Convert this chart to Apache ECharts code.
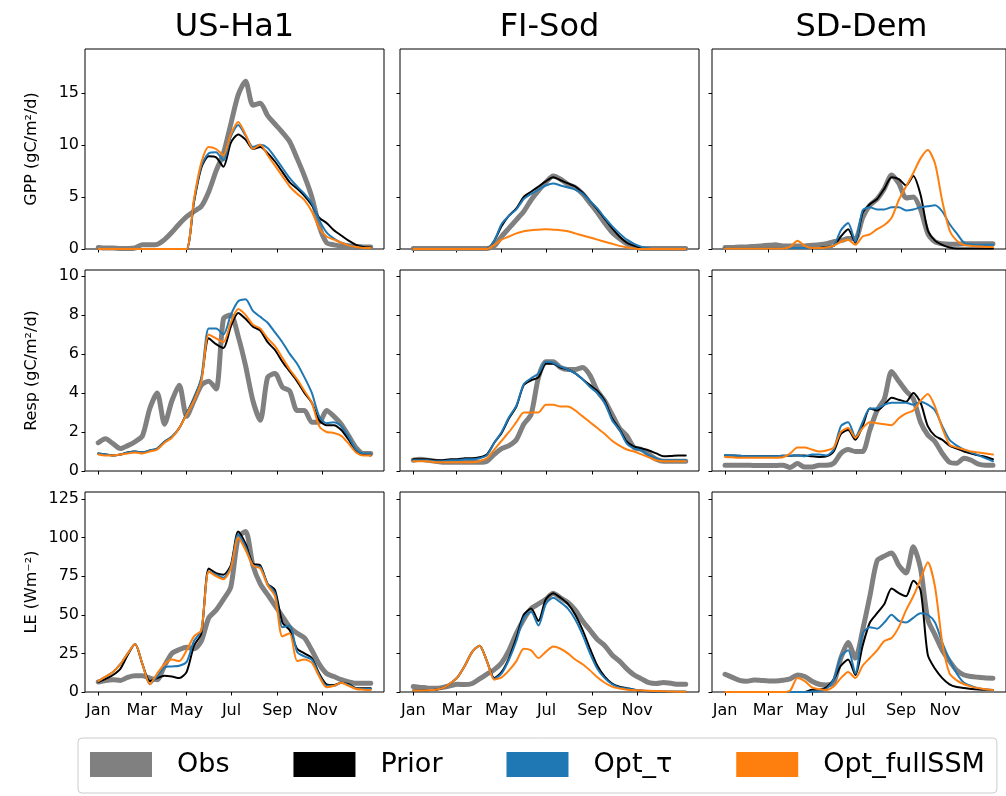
<!DOCTYPE html>
<html>
<head>
<meta charset="utf-8">
<title>GPP, Resp and LE at three sites</title>
<script src="https://cdn.jsdelivr.net/npm/echarts@6/dist/echarts.min.js"></script>
<style>
html, body { margin: 0; padding: 0; background: #fff; }
#chart { width: 1006px; height: 796px; }
</style>
</head>
<body>
<div id="chart"></div>
<script>
// day of year (0 = 1 Jan), one value every 10 days
const days = [0, 10, 20, 30, 40, 50, 60, 70, 80, 90, 100, 110, 120, 130, 140, 150, 160, 170, 180,
  190, 200, 210, 220, 230, 240, 250, 260, 270, 280, 290, 300, 310, 320, 330, 340, 350, 360, 370];
const monthTicks = [0, 59, 120, 181, 243, 304];
const monthLabels = ['Jan', 'Mar', 'May', 'Jul', 'Sep', 'Nov'];
const sites = ['US-Ha1', 'FI-Sod', 'SD-Dem'];
const rowNames = ['GPP (gC/m²/d)', 'Resp (gC/m²/d)', 'LE (Wm⁻²)'];
const yTicks = [[0, 5, 10, 15], [0, 2, 4, 6, 8, 10], [0, 25, 50, 75, 100, 125]];
const yMax = [19.2, 10.3, 129.5];
const seriesNames = ['Obs', 'Prior', 'Opt_τ', 'Opt_fullSSM'];

// GPP
const ha1GppObs = [0.15, 0.1, 0.1, 0.05, 0.05, 0.1, 0.4, 0.4, 0.45, 0.9, 1.6, 2.4, 3.1, 3.6, 4.1, 5.5, 7.5, 9.2, 12.0, 14.8, 16.1, 13.8, 14.0, 12.8, 12.0, 11.2, 10.3, 8.7, 7.0, 5.0, 2.2, 0.6, 0.4, 0.3, 0.3, 0.25, 0.2, 0.2];
const ha1GppPrior = [0, 0, 0, 0, 0, 0, 0, 0, 0, 0, 0, 0, 0, 4.5, 7.8, 8.9, 8.8, 7.9, 10.2, 11.0, 10.5, 9.6, 9.8, 9.2, 8.4, 7.4, 6.4, 5.8, 5.1, 4.2, 3.0, 2.5, 1.8, 1.3, 0.8, 0.4, 0.2, 0.15];
const ha1GppTau = [0, 0, 0, 0, 0, 0, 0, 0, 0, 0, 0, 0, 0, 4.6, 8.0, 9.2, 9.3, 8.5, 10.8, 11.9, 10.9, 9.8, 10.0, 9.7, 8.8, 7.8, 6.8, 6.0, 5.3, 4.4, 2.8, 1.6, 1.0, 0.6, 0.4, 0.2, 0.1, 0.1];
const ha1GppFull = [0, 0, 0, 0, 0, 0, 0, 0, 0, 0, 0, 0, 0, 4.8, 8.3, 9.8, 9.6, 9.0, 11.0, 12.2, 11.0, 9.6, 10.0, 9.0, 8.0, 7.0, 6.0, 5.3, 4.7, 3.6, 2.0, 1.2, 0.9, 0.6, 0.35, 0.2, 0.1, 0.1];

const sodGppObs = [0.05, 0.05, 0.05, 0.05, 0.05, 0.05, 0.05, 0.05, 0.05, 0.05, 0.05, 0.3, 1.2, 2.0, 2.8, 3.6, 4.7, 5.6, 6.4, 7.0, 6.7, 6.2, 5.9, 5.3, 4.4, 3.5, 2.5, 1.6, 1.0, 0.5, 0.2, 0.05, 0.05, 0.05, 0.05, 0.05, 0.05, 0.05];
const sodGppPrior = [0, 0, 0, 0, 0, 0, 0, 0, 0, 0, 0, 0.8, 2.2, 3.2, 3.9, 5.0, 5.5, 6.0, 6.5, 6.9, 6.6, 6.3, 6.0, 5.4, 4.6, 3.8, 2.9, 2.0, 1.2, 0.6, 0.3, 0.1, 0, 0, 0, 0, 0, 0];
const sodGppTau = [0, 0, 0, 0, 0, 0, 0, 0, 0, 0, 0, 0.8, 2.4, 3.2, 3.8, 4.8, 5.3, 5.7, 6.1, 6.3, 6.1, 5.9, 5.7, 5.3, 4.6, 3.9, 3.0, 2.2, 1.5, 0.9, 0.5, 0.2, 0.05, 0, 0, 0, 0, 0];
const sodGppFull = [0, 0, 0, 0, 0, 0, 0, 0, 0, 0, 0, 0.4, 0.9, 1.2, 1.5, 1.7, 1.8, 1.85, 1.9, 1.85, 1.8, 1.7, 1.5, 1.3, 1.1, 0.9, 0.7, 0.5, 0.3, 0.15, 0.05, 0, 0, 0, 0, 0, 0, 0];

const demGppObs = [0.15, 0.15, 0.2, 0.2, 0.25, 0.3, 0.35, 0.4, 0.3, 0.3, 0.3, 0.3, 0.35, 0.4, 0.5, 0.7, 0.8, 1.0, 1.0, 3.0, 4.2, 4.8, 5.8, 7.1, 6.3, 4.9, 5.0, 3.8, 1.5, 0.7, 0.5, 0.45, 0.45, 0.5, 0.5, 0.5, 0.5, 0.5];
const demGppPrior = [0.1, 0.1, 0.1, 0.1, 0.1, 0.1, 0.1, 0.1, 0.1, 0.1, 0.1, 0.1, 0.1, 0.1, 0.2, 0.3, 1.2, 1.9, 0.6, 3.5, 4.3, 4.8, 5.8, 6.9, 6.7, 6.1, 7.0, 5.2, 1.8, 0.8, 0.4, 0.15, 0.05, 0.05, 0.05, 0.05, 0.05, 0.05];
const demGppTau = [0.1, 0.1, 0.1, 0.1, 0.1, 0.1, 0.1, 0.1, 0.1, 0.1, 0.1, 0.1, 0.1, 0.1, 0.15, 0.3, 1.8, 2.5, 0.7, 3.7, 4.0, 3.8, 3.8, 4.0, 4.0, 3.7, 3.8, 4.0, 4.1, 4.2, 3.6, 2.4, 1.5, 0.6, 0.45, 0.4, 0.4, 0.4];
const demGppFull = [0.05, 0.05, 0.05, 0.05, 0.05, 0.05, 0.05, 0.05, 0.05, 0.2, 0.8, 0.3, 0.1, 0.1, 0.15, 0.3, 0.7, 0.9, 0.4, 1.2, 1.4, 1.9, 2.3, 3.0, 4.7, 6.0, 7.3, 8.7, 9.5, 8.2, 4.6, 1.8, 0.8, 0.4, 0.3, 0.25, 0.2, 0.2];

// Resp
const ha1RespObs = [1.45, 1.65, 1.4, 1.15, 1.3, 1.5, 1.8, 3.2, 4.0, 2.4, 3.6, 4.4, 2.8, 3.6, 4.4, 4.6, 4.2, 7.8, 8.0, 6.9, 5.4, 3.6, 2.6, 4.8, 5.0, 4.3, 4.1, 3.1, 3.1, 2.5, 2.5, 3.1, 2.8, 2.4, 1.8, 1.2, 0.9, 0.9];
const ha1RespPrior = [0.9, 0.85, 0.8, 0.85, 0.95, 1.0, 0.95, 1.05, 1.15, 1.5, 1.75, 2.2, 2.95, 3.7, 4.7, 6.8, 6.5, 6.3, 7.4, 8.1, 7.8, 7.4, 7.2, 6.6, 6.2, 5.6, 5.1, 4.6, 4.0, 3.5, 2.6, 2.35, 2.35, 2.1, 1.6, 1.05, 0.85, 0.8];
const ha1RespTau = [0.9, 0.85, 0.8, 0.85, 0.95, 1.0, 0.95, 1.05, 1.15, 1.5, 1.75, 2.2, 2.95, 3.7, 4.8, 7.3, 7.3, 7.0, 8.0, 8.7, 8.8, 8.2, 7.9, 7.6, 7.1, 6.6, 6.0, 5.5, 4.8, 4.0, 2.8, 2.45, 2.5, 2.3, 1.75, 1.1, 0.9, 0.9];
const ha1RespFull = [0.85, 0.8, 0.8, 0.85, 0.9, 0.95, 0.9, 1.0, 1.1, 1.45, 1.7, 2.2, 2.9, 3.6, 4.6, 7.0, 6.8, 6.6, 7.6, 8.3, 8.0, 7.5, 7.3, 6.8, 6.4, 5.8, 5.2, 4.7, 4.1, 3.5, 2.3, 2.0, 1.95, 1.8, 1.4, 0.95, 0.8, 0.8];

const sodRespObs = [0.55, 0.6, 0.55, 0.5, 0.45, 0.45, 0.45, 0.45, 0.45, 0.45, 0.5, 0.85, 1.15, 1.3, 1.6, 2.4, 2.9, 4.8, 5.6, 5.6, 5.3, 5.2, 5.2, 5.3, 4.9, 4.1, 3.6, 2.9, 2.2, 1.8, 1.2, 1.1, 0.85, 0.6, 0.5, 0.5, 0.5, 0.5];
const sodRespPrior = [0.6, 0.6, 0.6, 0.55, 0.55, 0.6, 0.6, 0.65, 0.65, 0.7, 0.85, 1.45, 1.95, 2.7, 3.3, 4.4, 4.65, 4.8, 5.5, 5.5, 5.3, 5.2, 5.0, 4.7, 4.4, 4.1, 3.6, 2.7, 2.15, 1.5, 1.25, 1.15, 1.05, 0.9, 0.75, 0.77, 0.8, 0.8];
const sodRespTau = [0.55, 0.55, 0.55, 0.5, 0.5, 0.55, 0.55, 0.6, 0.6, 0.65, 0.8, 1.45, 2.0, 2.75, 3.35, 4.45, 4.75, 5.0, 5.6, 5.55, 5.35, 5.2, 5.0, 4.7, 4.3, 4.0, 3.5, 2.6, 2.1, 1.4, 1.15, 1.05, 0.8, 0.65, 0.55, 0.55, 0.55, 0.55];
const sodRespFull = [0.5, 0.5, 0.5, 0.45, 0.45, 0.45, 0.45, 0.45, 0.45, 0.5, 0.65, 1.1, 1.55, 2.0, 2.5, 3.0, 3.0, 3.0, 3.4, 3.4, 3.3, 3.3, 3.1, 2.8, 2.5, 2.2, 1.9, 1.55, 1.3, 1.1, 1.0, 0.85, 0.7, 0.55, 0.5, 0.5, 0.5, 0.5];

const demRespObs = [0.3, 0.3, 0.3, 0.3, 0.28, 0.28, 0.28, 0.28, 0.3, 0.18, 0.38, 0.2, 0.2, 0.3, 0.3, 0.4, 0.9, 1.1, 1.0, 1.0, 2.1, 3.1, 3.7, 5.1, 4.6, 4.1, 3.7, 2.5, 1.85, 1.5, 0.9, 0.45, 0.4, 0.65, 0.55, 0.35, 0.3, 0.3];
const demRespPrior = [0.8, 0.8, 0.78, 0.75, 0.75, 0.75, 0.75, 0.75, 0.78, 0.78, 0.8, 0.8, 0.75, 0.72, 0.75, 1.0, 1.9, 2.1, 1.6, 2.3, 3.2, 3.1, 3.4, 3.75, 3.65, 3.55, 4.0, 3.5, 2.3, 1.8, 1.6, 1.3, 1.15, 1.0, 0.9, 0.8, 0.72, 0.6];
const demRespTau = [0.82, 0.8, 0.78, 0.75, 0.75, 0.75, 0.75, 0.75, 0.78, 0.78, 0.8, 0.75, 0.85, 0.85, 0.8, 1.1, 2.3, 2.5, 1.75, 2.5, 3.2, 3.2, 3.4, 3.5, 3.5, 3.5, 3.4, 3.55, 3.4, 3.1, 2.3, 1.6, 1.3, 1.1, 0.95, 0.8, 0.65, 0.5];
const demRespFull = [0.72, 0.7, 0.68, 0.68, 0.68, 0.68, 0.68, 0.68, 0.7, 0.9, 1.2, 1.2, 1.1, 1.0, 1.05, 1.2, 2.0, 2.2, 1.7, 2.2, 2.5, 2.45, 2.4, 2.35, 2.7, 2.95, 3.1, 3.6, 3.95, 3.3, 2.2, 1.35, 1.2, 1.1, 1.0, 0.95, 0.9, 0.85];

// LE
const ha1LeObs = [6.5, 7.5, 8.0, 7.5, 9.5, 10.5, 10.5, 9.0, 8.0, 17, 25, 27.5, 29, 28, 33, 48, 53, 60, 68, 100, 104, 82, 70, 63, 56, 49, 42, 38, 35, 27, 18, 12, 10, 8, 6.5, 5.6, 5.6, 5.6];
const ha1LePrior = [6.5, 8.5, 11, 15, 24, 31, 18, 7, 9, 10.5, 10, 9, 13, 30, 38, 80, 77, 76, 82, 104, 96, 83, 82, 70, 66, 45, 40, 28, 25, 22, 12, 5, 4.5, 6, 5, 2.5, 2.4, 2.4];
const ha1LeTau = [7, 10, 13, 18, 25, 31, 18, 5, 10, 16, 16.5, 17, 19.5, 33, 40, 78, 76, 74, 81, 102, 94, 82, 81, 70, 64, 42, 43, 26, 23, 21, 11, 4, 4, 6, 4.5, 2.2, 2, 2];
const ha1LeFull = [7, 10, 13, 18, 25, 31, 18, 5, 12, 18, 21, 20, 27, 36, 40, 78, 75, 73, 80, 100, 92, 82, 80, 69, 62, 36, 38, 20, 21, 19, 10, 3, 4, 6, 4, 2, 1.5, 1.3];

const sodLeObs = [3.5, 3, 2.5, 2.4, 3, 4, 5, 4.8, 5.5, 8.5, 11.5, 14.5, 19, 27, 38, 47, 54, 57, 60, 64, 61, 58, 53, 46, 40, 34, 30, 24, 20, 15, 11, 8.5, 6, 5.5, 6.2, 5.6, 5, 5];
const sodLePrior = [1.0, 1.0, 1.2, 1.5, 2.5, 5.5, 9.5, 17, 26, 30, 20, 9, 13, 22, 35, 50, 54, 46, 60, 64, 61, 57, 50, 40, 28, 17, 10, 5.5, 3.5, 2.5, 1.5, 0.8, 0.5, 0.3, 0.2, 0.2, 0.2, 0.2];
const sodLeTau = [1.0, 1.0, 1.2, 1.5, 2.5, 5.5, 9.5, 17, 26, 30, 20, 8.5, 12, 21, 33, 48, 52, 43, 57, 61, 58, 54, 47, 37, 25, 15, 9, 5, 3, 2.2, 1.5, 1.0, 0.6, 0.4, 0.3, 0.2, 0.2, 0.2];
const sodLeFull = [1.0, 1.0, 1.2, 1.5, 2.5, 5.5, 9.5, 17, 26, 30, 20, 8, 9.5, 14, 20, 28, 27, 22, 26, 29.5, 28, 25, 21, 18, 14, 9.5, 6, 3.5, 2.2, 1.5, 1.2, 1.0, 0.8, 0.6, 0.5, 0.3, 0.2, 0.2];

const demLeObs = [11.5, 9.5, 7.5, 7, 7.8, 7.5, 7.2, 7.2, 7.6, 8.5, 11, 10, 7, 5, 4.5, 6, 22, 32, 22, 40, 62, 85, 88, 90, 82, 77, 94, 80, 47, 37, 27, 20, 14, 11, 10, 9.5, 9, 8.9];
const demLePrior = [0, 0, 0, 0, 0, 0, 0, 0, 0, 0, 0, 0, 1.5, 1.5, 3, 8, 17, 21, 11, 30, 45, 51, 57, 67, 64, 62, 72, 66, 24, 15, 9, 5, 3.2, 2.6, 2, 1.6, 1.4, 1.3];
const demLeTau = [0, 0, 0, 0, 0, 0, 0, 0, 0, 0, 0, 0, 0.3, 0.5, 2, 8, 23, 27, 12, 38, 42, 41, 45, 50, 46, 45, 48, 51, 50, 45, 32, 21, 12, 6, 4, 2.5, 1.8, 1.3];
const demLeFull = [0, 0, 0, 0, 0, 0, 0, 0, 0, 1, 9, 7, 3, 1.8, 1.3, 3.5, 9, 13, 9, 17, 22, 27, 33, 35, 42, 53, 62, 73, 84, 68, 32, 12, 7.5, 5, 3.5, 2.5, 1.8, 1.3];

const panels = [
  [[ha1GppObs, ha1GppPrior, ha1GppTau, ha1GppFull],
   [sodGppObs, sodGppPrior, sodGppTau, sodGppFull],
   [demGppObs, demGppPrior, demGppTau, demGppFull]],
  [[ha1RespObs, ha1RespPrior, ha1RespTau, ha1RespFull],
   [sodRespObs, sodRespPrior, sodRespTau, sodRespFull],
   [demRespObs, demRespPrior, demRespTau, demRespFull]],
  [[ha1LeObs, ha1LePrior, ha1LeTau, ha1LeFull],
   [sodLeObs, sodLePrior, sodLeTau, sodLeFull],
   [demLeObs, demLePrior, demLeTau, demLeFull]]
];

const colors = ['#808080', '#000000', '#1f77b4', '#ff7f0e'];
const widths = [5, 2, 2, 2];
const colLeft = [85, 400, 712];
const rowTop = [49, 270, 492];
const rowHeight = [200, 201, 200];
const font = 'DejaVu Sans';

const grids = [], xAxes = [], yAxes = [], series = [];
for (let r = 0; r < 3; r++) {
  for (let c = 0; c < 3; c++) {
    const idx = grids.length;
    grids.push({
      left: colLeft[c], top: rowTop[r], width: 299, height: rowHeight[r],
      show: true, borderColor: '#000', borderWidth: 1, backgroundColor: 'transparent'
    });
    xAxes.push({
      type: 'value', gridIndex: idx, min: -18, max: 388,
      axisLine: { show: false, onZero: false },
      splitLine: { show: false },
      axisTick: { show: true, length: 3.5, customValues: monthTicks, lineStyle: { color: '#000', width: 1 } },
      axisLabel: {
        show: r === 2, customValues: monthTicks, margin: 11,
        fontFamily: font, fontSize: 16, color: '#000',
        formatter: v => monthLabels[monthTicks.indexOf(v)]
      }
    });
    yAxes.push({
      type: 'value', gridIndex: idx, min: 0, max: yMax[r],
      name: c === 0 ? rowNames[r] : '',
      nameLocation: 'middle', nameGap: 45, nameRotate: 90,
      nameTextStyle: { fontFamily: font, fontSize: 16, color: '#000' },
      axisLine: { show: false, onZero: false },
      splitLine: { show: false },
      axisTick: { show: true, length: 3.5, customValues: yTicks[r], lineStyle: { color: '#000', width: 1 } },
      axisLabel: {
        show: c === 0, customValues: yTicks[r], margin: 6,
        fontFamily: font, fontSize: 16, color: '#000'
      }
    });
    panels[r][c].forEach((vals, s) => {
      series.push({
        name: seriesNames[s], type: 'line', xAxisIndex: idx, yAxisIndex: idx,
        data: days.map((d, k) => [d, vals[k]]),
        showSymbol: false, smooth: 0.25, color: colors[s],
        lineStyle: { color: colors[s], width: widths[s], cap: 'round', join: 'round' },
        emphasis: { disabled: true }
      });
    });
  }
}

const chart = echarts.init(document.getElementById('chart'));
chart.setOption({
  animation: false,
  backgroundColor: '#fff',
  title: sites.map((s, i) => ({
    text: s, left: colLeft[i] + 149.5, top: 12, textAlign: 'center', padding: 0,
    textStyle: { fontFamily: font, fontSize: 32, fontWeight: 'normal', color: '#000' }
  })),
  legend: {
    data: seriesNames, left: 78, top: 738,
    padding: [13, 12, 15, 12], itemWidth: 62, itemHeight: 25, itemGap: 64,
    icon: 'rect', borderColor: '#cccccc', borderWidth: 1, borderRadius: 4,
    itemStyle: { borderWidth: 0 },
    textStyle: { fontFamily: font, fontSize: 27, color: '#000', padding: [0, 0, 0, 20] }
  },
  grid: grids,
  xAxis: xAxes,
  yAxis: yAxes,
  series: series
});
</script>
</body>
</html>
